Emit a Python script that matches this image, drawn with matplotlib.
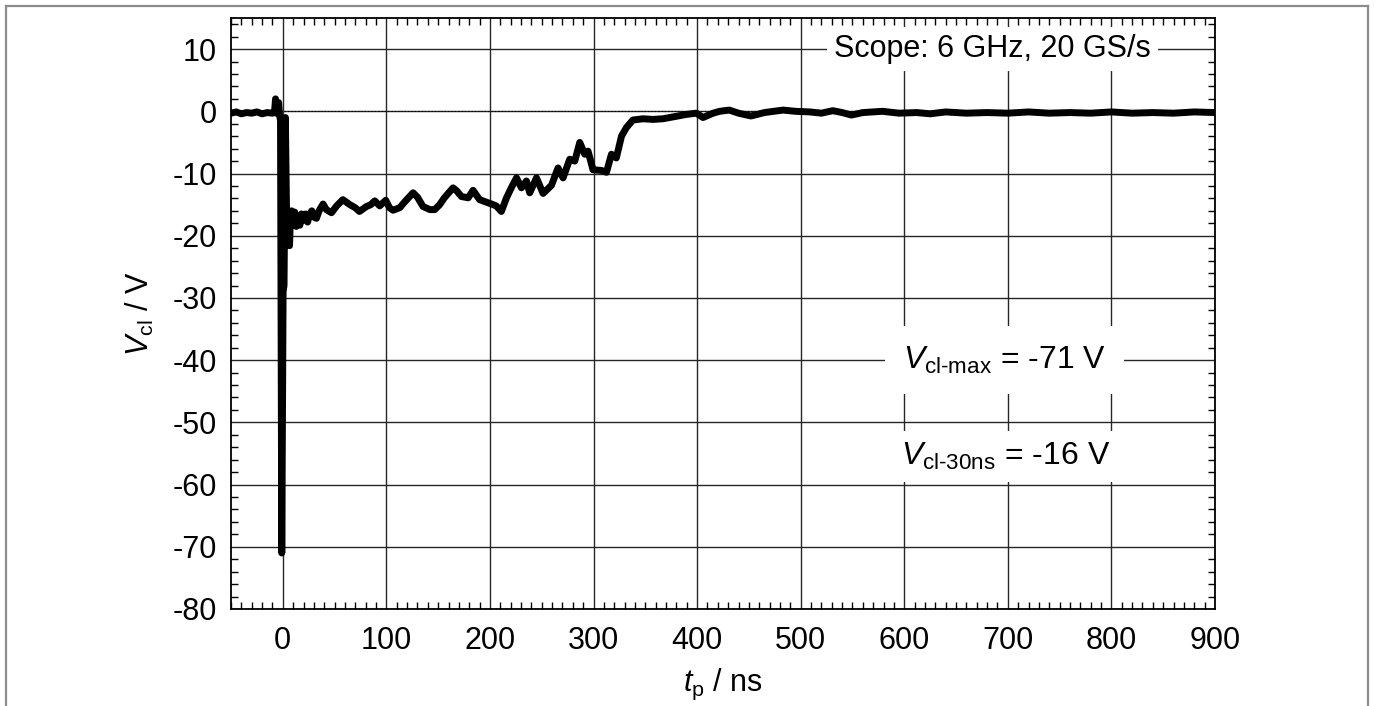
import matplotlib
matplotlib.use("Agg")
import matplotlib.pyplot as plt
from matplotlib.lines import Line2D
from matplotlib.ticker import MultipleLocator

plt.rcParams['font.family'] = ['Liberation Sans', 'DejaVu Sans']
plt.rcParams['mathtext.fontset'] = 'custom'
plt.rcParams['mathtext.rm'] = 'Liberation Sans'
plt.rcParams['mathtext.it'] = 'Liberation Sans:italic'
plt.rcParams['axes.unicode_minus'] = False

# ---- data ----
t_ns = [-50, -45, -40, -35, -30, -25, -20, -15, -10, -8, -7, -6.2, -5, -4, -3.2, -2.2,
        -1, 0.3, 1.2, 2.5, 3.6, 5, 6.5, 7.5,
        8.5, 10, 11.5, 13, 15, 16.5, 18, 20, 22, 24, 26, 28, 30, 32.5, 35, 38.9, 42, 47,
        52, 58, 64.7, 70, 74, 80.8, 85, 88.8, 93.6, 99.4, 103, 106.5, 112.9, 118, 125.8,
        130, 135.4, 142, 146.7, 151.5, 156, 164.4, 168, 172.5, 179, 183.7, 190, 199.8,
        206, 211, 216, 220, 225.6, 230.4, 235.2, 238.4, 244.9, 251.3, 259.4, 265.7,
        270.6, 277, 281.9, 286.7, 291.5, 294.7, 299.5, 307.6, 312.5, 317.3, 322, 327,
        331.8, 338, 347.8, 357.4, 367, 376.7, 389.6, 399.3, 405.7, 415.4, 421.8, 431,
        440, 452, 465, 483, 495, 509, 520, 531, 540, 549, 560, 579, 595, 612, 625, 640,
        660, 680, 700, 720, 740, 760, 780, 800, 820, 840, 860, 880, 900]
v_cl = [-0.3, -0.1, -0.4, -0.2, -0.3, -0.1, -0.4, -0.2, -0.3, -0.2, 2.0, -0.3, 0.0, 1.4, -0.5, -1.5,
        -71, -29, -28, -1.0, -16, -17.5, -21.6, -16.5,
        -16.0, -17.5, -16.2, -18.5, -17.0, -18.3, -16.5, -17.5, -16.5, -17.8, -16.5, -16.0,
        -17.0, -17.2, -16.0, -14.9, -15.8, -16.3,
        -15.2, -14.2, -15.0, -15.5, -16.1, -15.3, -15.0, -14.4, -15.2, -14.3, -15.5, -15.9,
        -15.5, -14.5, -13.1,
        -13.8, -15.3, -15.8, -15.8, -15.0, -13.9, -12.3, -12.8, -13.7, -13.9, -12.7, -14.2,
        -14.8,
        -15.2, -16.1, -13.9, -12.5, -10.7, -12.3, -11.2, -13.1, -10.7, -13.2, -11.9, -9.1,
        -10.7, -7.7, -8.0, -5.0, -6.9, -6.4, -9.4, -9.5, -9.8, -6.9, -7.5, -4.0,
        -2.6, -1.4, -1.2, -1.3, -1.2, -0.9, -0.5, -0.3, -1.0, -0.3, 0.0, 0.2,
        -0.3, -0.75, -0.2, 0.2, 0.0, -0.1, -0.3, 0.1, -0.2, -0.6, -0.2, 0.0, -0.3, -0.2,
        -0.4, -0.1,
        -0.3, -0.2, -0.3, -0.1, -0.3, -0.2, -0.3, -0.1, -0.3, -0.2, -0.3, -0.1, -0.2]

x_ticks = [0, 100, 200, 300, 400, 500, 600, 700, 800, 900]
y_ticks = [10, 0, -10, -20, -30, -40, -50, -60, -70, -80]

label_scope = "Scope: 6 GHz, 20 GS/s"
label_max = r"$\mathit{V}_\mathrm{cl\text{-}max}$ = -71 V"
label_30 = r"$\mathit{V}_\mathrm{cl\text{-}30ns}$ = -16 V"

FS = 22

# ---- figure ----
fig = plt.figure(figsize=(13.75, 7.06), dpi=100)
ax = fig.add_axes([231/1375, 1-609/706, (1215-231)/1375, (609-18)/706])

ax.set_xlim(-50, 900)
ax.set_ylim(-80, 15)
ax.set_xticks(x_ticks)
ax.set_yticks(y_ticks)
ax.xaxis.set_minor_locator(MultipleLocator(10))
ax.yaxis.set_minor_locator(MultipleLocator(2))
ax.tick_params(which='both', direction='in', top=True, right=True, labelsize=FS)
ax.tick_params(axis='x', which='both', pad=12)
ax.tick_params(axis='y', which='both', pad=10)
ax.tick_params(which='major', length=0)
ax.tick_params(which='minor', length=5, width=1)

ax.grid(True, which='major', color='0.15', linewidth=1.0)
ax.set_axisbelow(True)
for s in ax.spines.values():
    s.set_linewidth(1.3)
    s.set_color('black')

ax.axhline(0, color='black', linestyle=(0, (1, 2)), linewidth=0.8, zorder=1.5)
ax.plot(t_ns, v_cl, color='black', linewidth=5.0, solid_joinstyle='round', zorder=3)

ax.set_xlabel(r"$\mathit{t}_\mathrm{p}$ / ns", fontsize=FS, labelpad=8)
ax.set_ylabel(r"$\mathit{V}_\mathrm{cl}$ / V", fontsize=FS, labelpad=12)

ax.text(685, 10, label_scope, fontsize=FS, ha='center', va='center',
        bbox=dict(facecolor='white', edgecolor='none', pad=5), zorder=4)
ax.text(697, -40, label_max, fontsize=FS + 1, ha='center', va='center',
        bbox=dict(facecolor='white', edgecolor='none', pad=13), zorder=4)
ax.text(698, -55.5, label_30, fontsize=FS + 1, ha='center', va='center',
        bbox=dict(facecolor='white', edgecolor='none', pad=7), zorder=4)

# outer gray frame
fc = '#8c8c8c'
fig.add_artist(Line2D([5.5/1375, 5.5/1375], [0, 1-6/706], color=fc, linewidth=1.6, transform=fig.transFigure))
fig.add_artist(Line2D([5.5/1375, 1367.5/1375], [1-6/706, 1-6/706], color=fc, linewidth=1.6, transform=fig.transFigure))
fig.add_artist(Line2D([1367.5/1375, 1367.5/1375], [0, 1-6/706], color=fc, linewidth=1.6, transform=fig.transFigure))

fig.savefig("out.png", dpi=100, facecolor='white')
